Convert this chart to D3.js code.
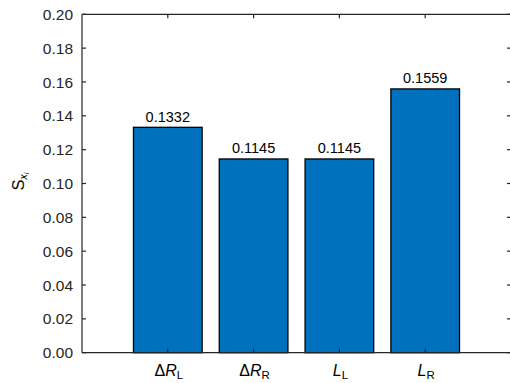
<!DOCTYPE html>
<html>
<head>
<meta charset="utf-8">
<script src="https://cdn.jsdelivr.net/npm/d3@7"></script>
<style>
  html, body { margin: 0; padding: 0; background: #fff; }
  svg { display: block; font-family: "Liberation Sans", Arial, Helvetica, sans-serif; }
</style>
</head>
<body>
<svg id="chart" width="510" height="383"></svg>
<script>
// Sensitivity index for each parameter
const categories = ["dRL", "dRR", "LL", "LR"];
const values = [0.1332, 0.1145, 0.1145, 0.1559];
const valueLabels = ["0.1332", "0.1145", "0.1145", "0.1559"];
// Parts of each category label: [prefix, italic symbol, subscript]
const catPrefix = ["\u0394", "\u0394", "", ""];
const catSymbol = ["R", "R", "L", "L"];
const catSub = ["L", "R", "L", "R"];
const yTicks = [0, 0.02, 0.04, 0.06, 0.08, 0.10, 0.12, 0.14, 0.16, 0.18, 0.20];

const svg = d3.select("#chart");
const margin = { left: 82, right: -1, top: 14.3, bottom: 30.3 };
const W = 510, H = 383;
const axisColor = "#262626";

const x = d3.scaleLinear().domain([0, categories.length + 1])
  .range([margin.left, W - margin.right]);
const y = d3.scaleLinear().domain([0, 0.2])
  .range([H - margin.bottom, margin.top]);
const barW = (x(1) - x(0)) * 0.8;

// bars
svg.append("g").selectAll("rect").data(values).join("rect")
  .attr("x", (d, i) => x(i + 1) - barW / 2)
  .attr("y", d => y(d))
  .attr("width", barW)
  .attr("height", d => y(0) - y(d))
  .attr("fill", "#0072BD")
  .attr("stroke", "#000")
  .attr("stroke-width", 1.3);

// value labels
svg.append("g").selectAll("text").data(values).join("text")
  .attr("x", (d, i) => x(i + 1))
  .attr("y", d => y(d) - 5.5)
  .attr("text-anchor", "middle")
  .attr("font-size", 14.5)
  .attr("fill", "#000")
  .text((d, i) => valueLabels[i]);

const tickLen = 4;
const axes = svg.append("g").attr("stroke", axisColor).attr("stroke-width", 1.2).attr("fill", "none");
// box
axes.append("line").attr("x1", x(0)).attr("x2", x(5)).attr("y1", y(0)).attr("y2", y(0));
axes.append("line").attr("x1", x(0)).attr("x2", x(5)).attr("y1", y(0.2)).attr("y2", y(0.2));
axes.append("line").attr("x1", x(0)).attr("x2", x(0)).attr("y1", y(0)).attr("y2", y(0.2));
axes.append("line").attr("x1", x(5)).attr("x2", x(5)).attr("y1", y(0)).attr("y2", y(0.2));

// y ticks (inward, both sides)
yTicks.forEach(t => {
  axes.append("line").attr("x1", x(0)).attr("x2", x(0) + tickLen).attr("y1", y(t)).attr("y2", y(t));
  axes.append("line").attr("x1", x(5)).attr("x2", x(5) - tickLen).attr("y1", y(t)).attr("y2", y(t));
});
// x ticks (inward, bottom and top)
categories.forEach((c, i) => {
  axes.append("line").attr("x1", x(i + 1)).attr("x2", x(i + 1)).attr("y1", y(0)).attr("y2", y(0) - tickLen);
  axes.append("line").attr("x1", x(i + 1)).attr("x2", x(i + 1)).attr("y1", y(0.2)).attr("y2", y(0.2) + tickLen);
});

// y tick labels
svg.append("g").selectAll("text").data(yTicks).join("text")
  .attr("x", x(0) - 9)
  .attr("y", d => y(d))
  .attr("dy", "0.36em")
  .attr("text-anchor", "end")
  .attr("font-size", 15.5)
  .attr("fill", axisColor)
  .text(d => d3.format(".2f")(d));

// x tick labels
const xl = svg.append("g").selectAll("text").data(categories).join("text")
  .attr("x", (d, i) => x(i + 1) + 1)
  .attr("y", y(0) + 23.5)
  .attr("text-anchor", "middle")
  .attr("font-size", 16)
  .attr("fill", "#000");
xl.append("tspan").text((d, i) => catPrefix[i]);
xl.append("tspan").attr("font-style", "italic").text((d, i) => catSymbol[i]);
xl.append("tspan").attr("font-size", 11.5).attr("dy", 3).text((d, i) => catSub[i]);

// y axis title: S with subscript x_i
const yt = svg.append("text")
  .attr("transform", `translate(24,${(y(0) + y(0.2)) / 2 - 2}) rotate(-90)`)
  .attr("text-anchor", "middle")
  .attr("font-size", 16.5)
  .attr("fill", "#000");
yt.append("tspan").text("S");
yt.append("tspan").attr("font-size", 10.5).attr("dy", 3).attr("font-style", "italic").text("x");
yt.append("tspan").attr("font-size", 7.5).attr("dy", 2).attr("font-style", "italic").text("i");
</script>
</body>
</html>
